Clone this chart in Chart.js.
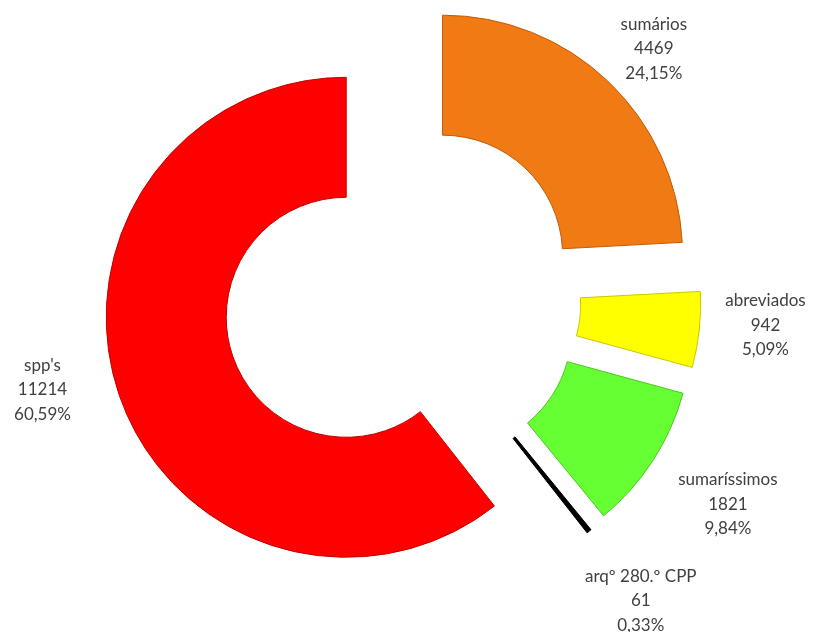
<!DOCTYPE html>
<html>
<head>
<meta charset="utf-8">
<script src="https://cdn.jsdelivr.net/npm/chart.js@4.4.1/dist/chart.umd.min.js"></script>
<style>
  html, body { margin: 0; padding: 0; background: #fff; }
  #wrap { width: 815px; height: 632px; }
</style>
</head>
<body>
<div id="wrap"><canvas id="donutChart" width="815" height="632"></canvas></div>
<script>
  // Data
  var categories = ['sumários', 'abreviados', 'sumaríssimos', 'arqº 280.º CPP', "spp's"];
  var counts = [4469, 942, 1821, 61, 11214];

  var sliceColors = ['#F07A14', '#FFFF00', '#66FF33', '#000000', '#FF0000'];
  var edgeColors = ['#C45A08', '#C8C800', '#48C81C', '#000000', '#C00000'];

  // how far every slice is pulled out from the centre (px)
  var explode = 59;
  // small hand nudges for the outside labels [dx, dy]
  var labelNudge = [[6, 10], [16, -10], [17, 6], [16, 25], [-39, -19]];

  document.addEventListener('DOMContentLoaded', function() {
    createDonutChart();
  });

  function pctText(v, total) {
    return (v / total * 100).toFixed(2).replace('.', ',') + '%';
  }

  // draw each arc shifted along its own bisector (Excel style explode)
  var explodePlugin = {
    id: 'explode',
    beforeDatasetDraw: function(chart, args) {
      var ctx = chart.ctx;
      var arcs = args.meta.data;
      arcs.forEach(function(arc) {
        var mid = (arc.startAngle + arc.endAngle) / 2;
        ctx.save();
        ctx.translate(Math.cos(mid) * explode, Math.sin(mid) * explode);
        arc.draw(ctx);
        ctx.restore();
      });
      return false;
    }
  };

  var labelPlugin = {
    id: 'outLabels',
    afterDatasetsDraw: function(chart) {
      var ctx = chart.ctx;
      var meta = chart.getDatasetMeta(0);
      var data = chart.data.datasets[0].data;
      var total = data.reduce(function(a, b) { return a + b; }, 0);
      var lineH = 24.5;
      ctx.save();
      ctx.font = '17px Lato, "Liberation Sans", sans-serif';
      ctx.fillStyle = '#404040';
      ctx.textAlign = 'center';
      ctx.textBaseline = 'middle';
      meta.data.forEach(function(arc, i) {
        var mid = (arc.startAngle + arc.endAngle) / 2;
        var dx = Math.cos(mid), dy = Math.sin(mid);
        var cx = arc.x + dx * explode;
        var cy = arc.y + dy * explode;
        var lines = [chart.data.labels[i], String(data[i]), pctText(data[i], total)];
        var w = Math.max.apply(null, lines.map(function(t) { return ctx.measureText(t).width; }));
        var h = lines.length * lineH;
        var edge = Math.min(
          Math.abs(dx) > 1e-6 ? (w / 2) / Math.abs(dx) : 1e9,
          Math.abs(dy) > 1e-6 ? (h / 2) / Math.abs(dy) : 1e9
        );
        var r = arc.outerRadius + 10 + edge;
        var lx = cx + dx * r + labelNudge[i][0];
        var ly = cy + dy * r + labelNudge[i][1];
        lines.forEach(function(t, k) {
          ctx.fillText(t, lx, ly + (k - 1) * lineH);
        });
      });
      ctx.restore();
    }
  };

  function createDonutChart() {
    var donutCanvas = document.getElementById('donutChart');

    var donutData = {
      labels: categories,
      datasets: [{
        data: counts,
        backgroundColor: sliceColors,
        borderColor: edgeColors,
        borderWidth: 1,
        clip: false
      }]
    };

    var donutOptions = {
      responsive: false,
      animation: false,
      radius: 240,
      cutout: '50%',
      layout: {
        padding: { left: 0, right: 11, top: 0, bottom: 36 }
      },
      plugins: {
        legend: { display: false },
        tooltip: { enabled: false }
      },
      events: []
    };

    new Chart(donutCanvas, {
      type: 'doughnut',
      data: donutData,
      options: donutOptions,
      plugins: [explodePlugin, labelPlugin]
    });
  }
</script>
</body>
</html>
